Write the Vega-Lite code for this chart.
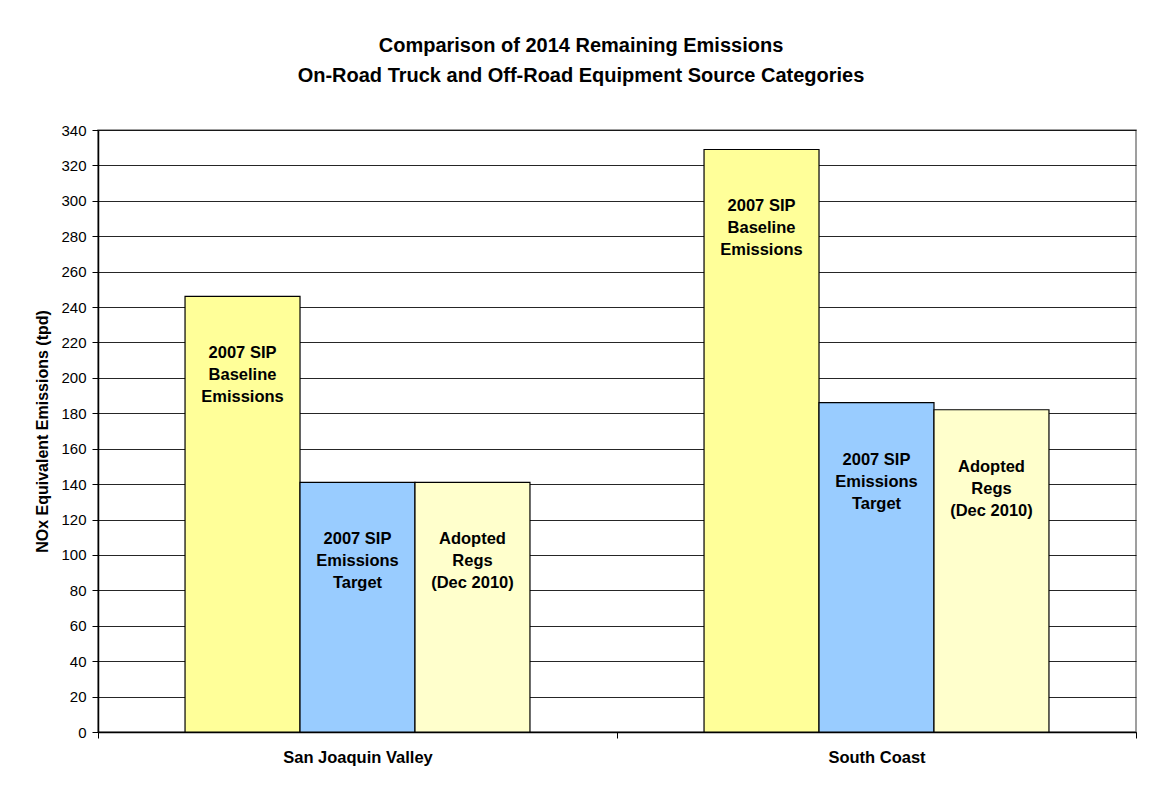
{
  "$schema": "https://vega.github.io/schema/vega-lite/v6.json",
  "width": 1038,
  "height": 602,
  "autosize": "none",
  "padding": {"left": 98, "top": 130, "right": 15, "bottom": 60},
  "background": "white",
  "config": {
    "font": "Liberation Sans",
    "view": {"stroke": "#808080", "strokeWidth": 1.5}
  },
  "title": {
    "text": ["Comparison of 2014 Remaining Emissions", "On-Road Truck and Off-Road Equipment Source Categories"],
    "fontSize": 20,
    "fontWeight": "bold",
    "color": "#000",
    "anchor": "middle",
    "dx": -36,
    "offset": 37,
    "lineHeight": 30
  },
  "data": {
    "values": [
      {"region": "San Joaquin Valley", "series": "Baseline", "value": 246, "label": "2007 SIP\nBaseline\nEmissions"},
      {"region": "San Joaquin Valley", "series": "Target", "value": 141, "label": "2007 SIP\nEmissions\nTarget"},
      {"region": "San Joaquin Valley", "series": "Adopted", "value": 141, "label": "Adopted\nRegs\n(Dec 2010)"},
      {"region": "South Coast", "series": "Baseline", "value": 329, "label": "2007 SIP\nBaseline\nEmissions"},
      {"region": "South Coast", "series": "Target", "value": 186, "label": "2007 SIP\nEmissions\nTarget"},
      {"region": "South Coast", "series": "Adopted", "value": 182, "label": "Adopted\nRegs\n(Dec 2010)"}
    ]
  },
  "encoding": {
    "x": {
      "field": "region",
      "type": "nominal",
      "sort": ["San Joaquin Valley", "South Coast"],
      "scale": {"paddingInner": 0, "paddingOuter": 0},
      "axis": {
        "title": null,
        "labelAngle": 0,
        "labelFontSize": 16.5,
        "labelFontWeight": "bold",
        "labelColor": "#000",
        "labelPadding": 11,
        "domainColor": "#000",
        "domainWidth": 1.5,
        "tickColor": "#000",
        "tickBand": "extent",
        "tickSize": 6
      }
    },
    "xOffset": {
      "field": "series",
      "type": "nominal",
      "sort": ["Baseline", "Target", "Adopted"],
      "scale": {"paddingInner": 0, "paddingOuter": 0.757}
    },
    "y": {
      "field": "value",
      "type": "quantitative",
      "scale": {"domain": [0, 340], "nice": false},
      "axis": {
        "title": "NOx Equivalent Emissions (tpd)",
        "titleFontSize": 16,
        "titleFontWeight": "bold",
        "titleColor": "#000",
        "titlePadding": 10,
        "values": [0, 20, 40, 60, 80, 100, 120, 140, 160, 180, 200, 220, 240, 260, 280, 300, 320, 340],
        "labelFontSize": 15,
        "labelColor": "#000",
        "labelPadding": 6,
        "domainColor": "#000",
        "domainWidth": 1.5,
        "tickColor": "#000",
        "tickSize": 6,
        "grid": true,
        "gridColor": "#000",
        "gridWidth": 1,
        "gridOpacity": 0.85
      }
    }
  },
  "layer": [
    {
      "mark": {"type": "bar", "stroke": "#000", "strokeWidth": 1.2},
      "encoding": {
        "color": {
          "field": "series",
          "type": "nominal",
          "scale": {"domain": ["Baseline", "Target", "Adopted"], "range": ["#FFFF99", "#99CCFF", "#FFFFCC"]},
          "legend": null
        }
      }
    },
    {
      "mark": {"type": "text", "baseline": "top", "align": "center", "dy": 49, "lineBreak": "\n", "lineHeight": 22, "fontSize": 16.5, "fontWeight": "bold", "color": "#000"},
      "encoding": {"text": {"field": "label"}}
    }
  ]
}
